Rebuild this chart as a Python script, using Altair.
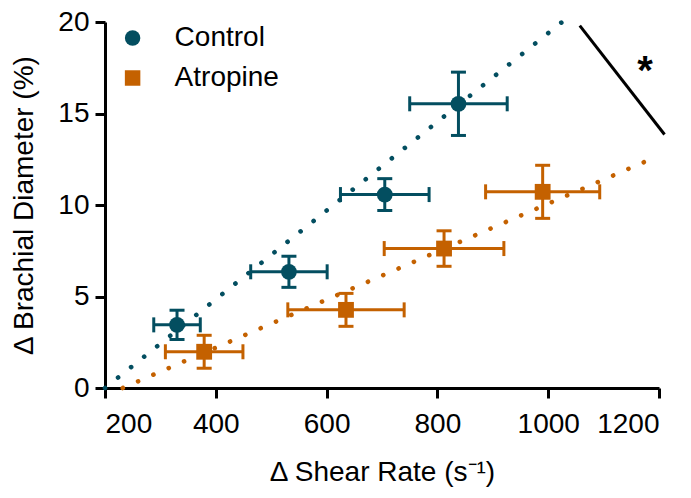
import altair as alt
import pandas as pd

FONT = "Liberation Sans"

groups = ["Control", "Atropine"]
colors = ["#034e60", "#c46100"]
shapes = ["circle", "square"]

control_x = [330, 532, 705, 838]
control_y = [3.45, 6.35, 10.57, 15.53]
control_xerr = [42, 69, 80, 88]
control_yerr = [0.8, 0.85, 0.87, 1.73]

atropine_x = [379, 635, 812, 990]
atropine_y = [1.98, 4.27, 7.62, 10.72]
atropine_xerr = [70, 105, 108, 103]
atropine_yerr = [0.9, 0.9, 0.97, 1.45]

# fitted regression line endpoints
control_line_x = [200, 1025]
control_line_y = [0, 20]
atropine_line_x = [232, 1185]
atropine_line_y = [0, 12.5]

# significance annotation
sig_line_x = [1057, 1210]
sig_line_y = [19.8, 13.85]
sig_text_x = [1175]
sig_text_y = [17.25]
sig_text = ["*"]

x_ticks = [200, 400, 600, 800, 1000, 1200]
y_ticks = [0, 5, 10, 15, 20]

rows = []
for g, xs, ys, xe, ye in [
    ("Control", control_x, control_y, control_xerr, control_yerr),
    ("Atropine", atropine_x, atropine_y, atropine_xerr, atropine_yerr),
]:
    for x, y, dx, dy in zip(xs, ys, xe, ye):
        rows.append(dict(group=g, x=x, y=y, xlo=x - dx, xhi=x + dx, ylo=y - dy, yhi=y + dy))
df = pd.DataFrame(rows)

line_rows = []
for g, xs, ys in [("Control", control_line_x, control_line_y),
                  ("Atropine", atropine_line_x, atropine_line_y)]:
    for x, y in zip(xs, ys):
        line_rows.append(dict(group=g, x=x, y=y))
df_lines = pd.DataFrame(line_rows)

df_sig = pd.DataFrame(dict(x=sig_line_x, y=sig_line_y))
df_txt = pd.DataFrame(dict(x=sig_text_x, y=sig_text_y, t=sig_text))

xscale = alt.Scale(domain=[200, 1200], nice=False, zero=False)
yscale = alt.Scale(domain=[0, 20], nice=False, zero=False)
cscale = alt.Scale(domain=groups, range=colors)
sscale = alt.Scale(domain=groups, range=shapes)

xaxis = alt.Axis(values=x_ticks, format="d", title="Δ Shear Rate (s⁻¹)", titlePadding=20, labelPadding=12)
yaxis = alt.Axis(values=y_ticks, title="Δ Brachial Diameter (%)", titlePadding=19, labelPadding=6)

X = lambda f: alt.X(f, type="quantitative", scale=xscale, axis=xaxis)
Y = lambda f: alt.Y(f, type="quantitative", scale=yscale, axis=yaxis)
LEG = alt.Legend(title=None)
C = alt.Color("group:N", scale=cscale, legend=LEG)

lines = alt.Chart(df_lines).mark_line(
    strokeDash=[0.1, 16.6], strokeCap="round", strokeWidth=4.6, clip=False
).encode(x=X("x"), y=Y("y"), color=C)

base = alt.Chart(df)
hbar = base.mark_rule(strokeWidth=3).encode(x=X("xlo"), x2="xhi", y=Y("y"), color=C)
vbar = base.mark_rule(strokeWidth=3).encode(x=X("x"), y=Y("ylo"), y2="yhi", color=C)
cap_l = base.mark_tick(orient="vertical", size=15, thickness=3, opacity=1).encode(x=X("xlo"), y=Y("y"), color=C)
cap_r = base.mark_tick(orient="vertical", size=15, thickness=3, opacity=1).encode(x=X("xhi"), y=Y("y"), color=C)
cap_b = base.mark_tick(orient="horizontal", size=15, thickness=3, opacity=1).encode(x=X("x"), y=Y("ylo"), color=C)
cap_t = base.mark_tick(orient="horizontal", size=15, thickness=3, opacity=1).encode(x=X("x"), y=Y("yhi"), color=C)

points = base.mark_point(filled=True, size=250, opacity=1, strokeWidth=0).encode(
    x=X("x"), y=Y("y"),
    color=C,
    shape=alt.Shape("group:N", scale=sscale, legend=LEG),
)

sig = alt.Chart(df_sig).mark_line(color="black", strokeWidth=3, clip=False).encode(x=X("x"), y=Y("y"))
txt = alt.Chart(df_txt).mark_text(
    font=FONT, fontSize=40, fontWeight="bold", color="black", baseline="middle", align="center"
).encode(x=X("x"), y=Y("y"), text="t:N")

chart = alt.layer(lines, hbar, vbar, cap_l, cap_r, cap_b, cap_t, points, sig, txt).properties(
    width=554, height=366,
    autosize=alt.AutoSizeParams(type="none"),
    padding={"left": 97, "top": 14, "right": 24, "bottom": 100},
).configure_view(stroke=None).configure_axis(
    grid=False, domainColor="black", domainWidth=3, tickColor="black", tickWidth=3,
    tickSize=10, labelFont=FONT, labelFontSize=28, labelColor="black",
    titleFont=FONT, titleFontSize=28, titleFontWeight="normal", titleColor="black",
    zindex=1,
).configure_legend(
    orient="none", legendX=13.6, legendY=2, labelFont=FONT, labelFontSize=28,
    labelColor="black", symbolSize=240, rowPadding=12, labelOffset=28, padding=0,
    symbolStrokeWidth=0, symbolOpacity=1,
)

chart.save("out.html", embed_options={"renderer": "svg", "actions": False})
